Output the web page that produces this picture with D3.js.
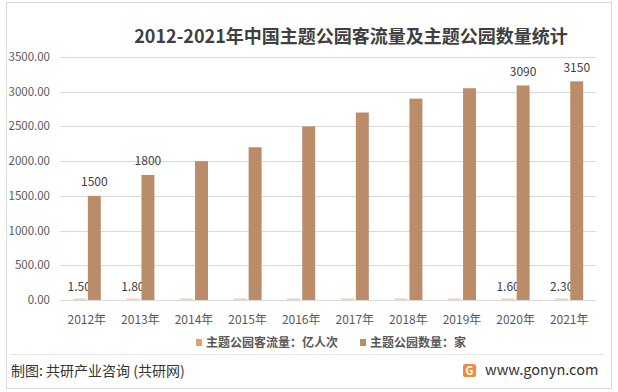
<!DOCTYPE html>
<html>
<head>
<meta charset="utf-8">
<script src="https://cdn.jsdelivr.net/npm/d3@7"></script>
<style>
  body { margin: 0; background: #fff; }
  svg { font-family: "Noto Sans CJK SC", "Noto Sans", sans-serif; }
</style>
</head>
<body>
<svg id="chart" width="618" height="392"></svg>
<script>
// chart data
var years = ["2012年", "2013年", "2014年", "2015年", "2016年", "2017年", "2018年", "2019年", "2020年", "2021年"];
var visitors = [1.5, 1.8, 1.9, 1.9, 2.0, 2.0, 2.1, 2.2, 1.6, 2.3];
var parks = [1500, 1800, 2000, 2200, 2500, 2700, 2900, 3050, 3090, 3150];
// which labels are shown on the original
var visitorLabels = ["1.50", "1.80", "", "", "", "", "", "", "1.60", "2.30"];
var parkLabels = ["1500", "1800", "", "", "", "", "", "", "3090", "3150"];
var yTicks = [0, 500, 1000, 1500, 2000, 2500, 3000, 3500];
var seriesNames = ["主题公园客流量：亿人次", "主题公园数量：家"];

var colors = ["#E2A06E", "#BA8C6A"];

var svg = d3.select("#chart");

// outer border
svg.append("rect")
    .attr("x", 6.5).attr("y", 2.5)
    .attr("width", 605).attr("height", 386)
    .attr("fill", "#fff")
    .attr("stroke", "#d9d9d9");

// title
svg.append("text")
    .attr("x", 351).attr("y", 43)
    .attr("text-anchor", "middle")
    .attr("font-size", 18)
    .attr("font-weight", "bold")
    .attr("fill", "#404040")
    .text("2012-2021年中国主题公园客流量及主题公园数量统计");

var margin = {left: 60, right: 22, top: 57, bottom: 92};
var width = 618 - margin.left - margin.right,
    height = 392 - margin.top - margin.bottom;

var g = svg.append("g").attr("transform", "translate(" + margin.left + "," + margin.top + ")");

var x = d3.scaleBand().domain(years).range([0, width]);
var y = d3.scaleLinear().domain([0, 3500]).range([height, 0]);

// inner band for the two bars
var x1 = d3.scaleBand().domain([0, 1]).range([x.bandwidth() / 2 - 14, x.bandwidth() / 2 + 14]).paddingInner(0.14);

// gridlines
g.selectAll(".grid")
    .data(yTicks)
    .enter().append("line")
    .attr("x1", 0).attr("x2", width)
    .attr("y1", function(d) { return Math.round(y(d)) + 0.5; })
    .attr("y2", function(d) { return Math.round(y(d)) + 0.5; })
    .attr("stroke", "#d9d9d9");

// y labels
g.selectAll(".ylab")
    .data(yTicks)
    .enter().append("text")
    .attr("x", -10)
    .attr("y", function(d) { return y(d); })
    .attr("dy", "0.35em")
    .attr("text-anchor", "end")
    .attr("font-size", 11.5)
    .attr("fill", "#595959")
    .text(function(d) { return d.toFixed(2); });

// x labels
g.selectAll(".xlab")
    .data(years)
    .enter().append("text")
    .attr("x", function(d) { return x(d) + x.bandwidth() / 2; })
    .attr("y", height + 20)
    .attr("dy", "0.35em")
    .attr("text-anchor", "middle")
    .attr("font-size", 12)
    .attr("fill", "#595959")
    .text(function(d) { return d; });

var series = [visitors, parks];
var labels = [visitorLabels, parkLabels];

series.forEach(function(vals, s) {
    g.selectAll(".bar" + s)
        .data(vals)
        .enter().append("rect")
        .attr("x", function(d, i) { return x(years[i]) + x1(s); })
        .attr("width", x1.bandwidth())
        .attr("y", function(d) { return y(d) - (s === 0 ? 1.5 : 0); })
        .attr("height", function(d) { return height - y(d) + (s === 0 ? 1.5 : 0); })
        .attr("fill", s === 0 ? "#F3D3B6" : colors[1]);

    //data labels
    g.selectAll(".lab" + s)
        .data(vals)
        .enter().append("text")
        .attr("x", function(d, i) { return x(years[i]) + x1(s) + x1.bandwidth() / 2; })
        .attr("y", function(d) { return y(d) - (s === 0 ? 13 : 14); })
        .attr("dy", "0.35em")
        .attr("text-anchor", "middle")
        .attr("font-size", 12)
        .attr("fill", "#404040")
        .text(function(d, i) { return labels[s][i]; });
});

// legend
var legendX = [196, 360];
seriesNames.forEach(function(name, i) {
    svg.append("rect")
        .attr("x", legendX[i]).attr("y", 339)
        .attr("width", 6).attr("height", 7)
        .attr("fill", colors[i]);
    svg.append("text")
        .attr("x", legendX[i] + 10).attr("y", 343)
        .attr("dy", "0.35em")
        .attr("font-size", 12)
        .attr("font-weight", "bold")
        .attr("fill", "#595959")
        .text(name);
});

// footer
svg.append("line")
    .attr("x1", 10).attr("x2", 604)
    .attr("y1", 354.5).attr("y2", 354.5)
    .attr("stroke", "#e6e6e6");

svg.append("text")
    .attr("x", 11).attr("y", 371)
    .attr("dy", "0.35em")
    .attr("font-size", 14)
    .attr("fill", "#333")
    .text("制图: 共研产业咨询 (共研网)");

// logo
var logo = svg.append("g").attr("transform", "translate(463,364)");
logo.append("rect")
    .attr("width", 13).attr("height", 13).attr("rx", 2)
    .attr("fill", "#F08C3C");
logo.append("text")
    .attr("x", 6.5).attr("y", 7)
    .attr("dy", "0.35em")
    .attr("text-anchor", "middle")
    .attr("font-size", 11)
    .attr("font-weight", "bold")
    .attr("fill", "#fff")
    .text("G");

svg.append("text")
    .attr("x", 485).attr("y", 370)
    .attr("dy", "0.35em")
    .attr("font-size", 14.5)
    .attr("fill", "#333")
    .text("www.gonyn.com");
</script>
</body>
</html>
